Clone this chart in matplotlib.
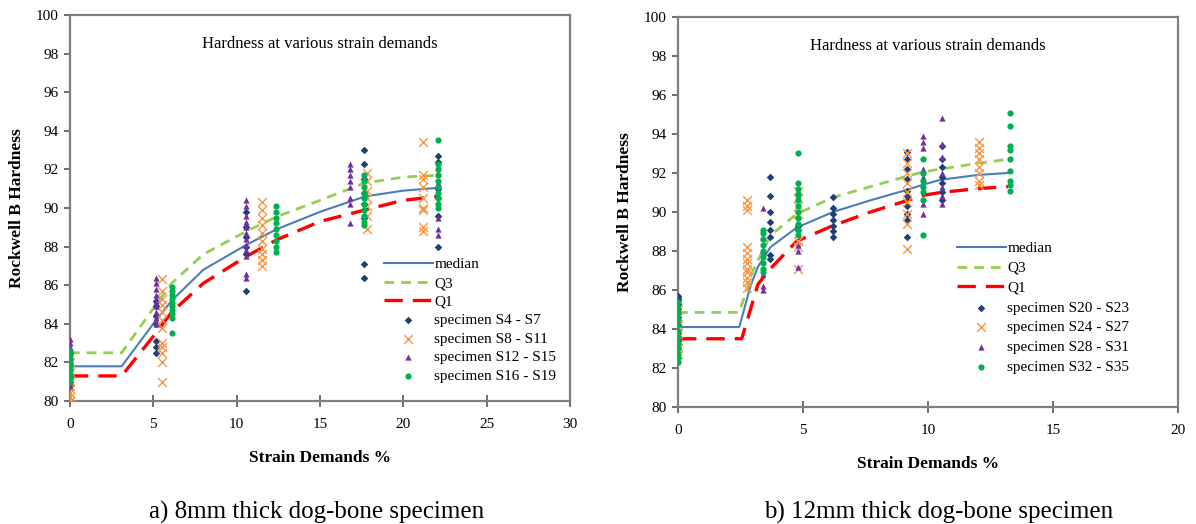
import numpy as np
import matplotlib
matplotlib.use("Agg")
import matplotlib.pyplot as plt

plt.rcParams['font.family'] = ['Liberation Serif', 'DejaVu Serif']

# ---- panel a) 8mm specimens ----
a_line_x = [0, 3.1, 5.0, 6.1, 8, 10.6, 12.4, 15, 17.7, 20, 22.1]
a_median = [81.8, 81.8, 84.0, 85.2, 86.8, 88.1, 88.9, 89.8, 90.6, 90.9, 91.05]
a_q3 = [82.5, 82.5, 84.8, 86.1, 87.6, 88.8, 89.55, 90.4, 91.3, 91.6, 91.7]
a_q1 = [81.3, 81.3, 83.35, 84.6, 86.1, 87.5, 88.35, 89.3, 89.9, 90.4, 90.6]

a_s4_x = [0, 5.15, 10.55, 17.65, 22.1]
a_s4_y = [[82.5, 82.2, 81.9, 81.6, 81.3, 81.0, 80.8],
          [85.2, 84.9, 84.4, 84.0, 83.1, 82.8, 82.5],
          [89.8, 89.0, 88.5, 88.0, 87.6, 85.7],
          [93.0, 92.3, 91.5, 90.8, 90.2, 89.5, 87.1, 86.4],
          [92.7, 92.4, 91.0, 90.5, 89.6, 88.0]]
a_s8_x = [0, 5.55, 11.55, 17.85, 21.2]
a_s8_y = [[82.0, 81.5, 81.0, 80.7, 80.4, 80.2, 80.0],
          [86.3, 85.7, 85.3, 85.0, 84.6, 84.2, 83.8, 83.0, 82.8, 82.5, 82.0, 81.0],
          [90.3, 89.9, 89.5, 89.1, 88.7, 88.3, 87.9, 87.6, 87.3, 87.0],
          [91.8, 91.4, 90.9, 90.5, 90.1, 89.6, 88.9],
          [93.4, 91.7, 91.5, 91.1, 90.5, 90.0, 89.9, 89.0, 88.8]]
a_s12_x = [0, 5.15, 10.55, 16.8, 22.1]
a_s12_y = [[83.2, 83.0, 82.8, 82.6, 81.0, 80.8],
           [86.4, 86.1, 85.8, 85.5, 85.2, 84.9, 84.6, 84.3, 84.0],
           [90.4, 90.1, 89.6, 89.3, 89.0, 88.7, 88.4, 88.1, 87.8, 87.5, 86.6, 86.4],
           [92.3, 92.0, 91.7, 91.4, 91.1, 90.5, 90.2, 89.2],
           [92.1, 91.8, 91.3, 89.5, 88.9, 88.6]]
a_s16_x = [0, 6.15, 12.35, 17.65, 22.1]
a_s16_y = [[82.6, 82.4, 82.2, 82.0, 81.8, 81.6, 81.4, 81.2, 81.0],
           [85.9, 85.7, 85.5, 85.3, 85.1, 84.9, 84.7, 84.5, 84.3, 83.5],
           [90.1, 89.8, 89.5, 89.2, 88.9, 88.6, 88.3, 88.0, 87.7],
           [91.7, 91.4, 91.1, 90.8, 90.5, 90.2, 89.9, 89.6, 89.3, 89.1],
           [93.5, 92.3, 92.0, 91.7, 91.4, 91.1, 90.8, 90.5, 90.2, 90.0]]
a_labels = ['specimen S4 - S7', 'specimen S8 - S11', 'specimen S12 - S15', 'specimen S16 - S19']

# ---- panel b) 12mm specimens ----
b_line_x = [0, 2.45, 2.9, 3.2, 3.7, 4.75, 6.2, 7.7, 9.2, 9.8, 10.5, 12, 13.2]
b_median = [84.1, 84.1, 86.2, 87.2, 88.2, 89.2, 90.0, 90.6, 91.15, 91.4, 91.65, 91.9, 92.0]
b_q3_x = [0, 2.45, 3.0, 3.7, 4.75, 6.2, 7.7, 9.2, 9.8, 10.5, 12, 13.2]
b_q3 = [84.85, 84.85, 87.0, 88.8, 89.9, 90.75, 91.3, 91.85, 92.05, 92.2, 92.5, 92.7]
b_q1_x = [0, 2.55, 3.2, 3.7, 4.75, 6.2, 7.7, 9.2, 9.8, 10.5, 12, 13.2]
b_q1 = [83.5, 83.5, 86.3, 87.1, 88.5, 89.3, 90.0, 90.6, 90.85, 91.0, 91.2, 91.3]

b_s20_x = [0, 3.7, 4.8, 6.2, 9.15, 10.55]
b_s20_y = [[85.7, 85.6, 85.5, 85.3, 85.0, 84.6, 84.2, 83.8, 83.4, 83.0],
           [91.8, 90.8, 90.0, 89.5, 89.1, 88.7, 87.8, 87.6],
           [89.3, 89.1],
           [90.75, 90.2, 89.9, 89.6, 89.3, 89.0, 88.7],
           [93.1, 92.7, 92.2, 91.7, 91.1, 90.8, 90.3, 89.9, 89.6, 88.7],
           [93.4, 92.7, 92.3, 91.8, 91.5, 91.0, 90.6]]
b_s24_x = [0, 2.75, 4.8, 9.15, 12.05]
b_s24_y = [[85.0, 84.6, 84.2, 83.8, 83.4, 83.0, 82.7],
           [90.6, 90.3, 90.1, 88.2, 87.9, 87.6, 87.4, 87.1, 86.9, 86.6, 86.4, 86.1],
           [91.1, 90.7, 90.3, 89.9, 88.5, 88.2, 87.1],
           [93.0, 92.5, 92.0, 91.5, 91.0, 90.5, 89.9, 89.4, 88.1],
           [93.6, 93.3, 93.0, 92.7, 92.3, 92.0, 91.6, 91.4]]
b_s28_x = [0, 3.4, 4.8, 9.8, 10.55]
b_s28_y = [[85.0, 84.4, 83.6, 83.2],
           [90.2, 88.7, 88.0, 86.8, 86.2, 86.0],
           [90.9, 88.3, 88.0, 87.2],
           [93.9, 93.6, 93.3, 92.2, 91.8, 90.4, 89.9],
           [94.8, 93.5, 92.8, 92.0, 91.3, 90.8, 90.4]]
b_s32_x = [0, 3.4, 4.8, 9.8, 13.3]
b_s32_y = [[85.4, 85.1, 84.8, 84.5, 84.2, 83.9, 83.6, 83.3, 83.0, 82.7, 82.5, 82.3],
           [89.1, 88.9, 88.6, 88.3, 88.0, 87.7, 87.4, 87.1, 86.9],
           [93.0, 91.5, 91.2, 90.9, 90.6, 90.3, 90.0, 89.7, 89.4, 89.1, 88.8],
           [92.7, 92.0, 91.6, 91.3, 91.0, 90.6, 88.8],
           [95.1, 94.4, 93.4, 93.2, 92.7, 92.1, 91.6, 91.4, 91.1]]
b_labels = ['specimen S20 - S23', 'specimen S24 - S27', 'specimen S28 - S31', 'specimen S32 - S35']

# Excel-like styling
c_median = '#4a7ebb'
c_q3 = '#92d050'
c_q1 = '#ff0000'
marker_styles = [
    dict(marker='D', color='#1f3f77', s=15, linewidths=0),
    dict(marker='x', color='#f79646', s=40, linewidths=1.0),
    dict(marker='^', color='#7030a0', s=20, linewidths=0),
    dict(marker='o', color='#00b050', s=20, linewidths=0),
]


def flatten(xs, ys):
    xx = np.concatenate([[x] * len(v) for x, v in zip(xs, ys)])
    yy = np.concatenate([v for v in ys])
    return xx, yy


def draw_panel(ax, med, q3, q1, groups, labels, xmax, legend_anchor, spacing):
    ax.plot(med[0], med[1], color=c_median, lw=1.5, label='median', zorder=3)
    ax.plot(q3[0], q3[1], color=c_q3, lw=2.0, dashes=(3.5, 2.5), label='Q3', zorder=3)
    ax.plot(q1[0], q1[1], color=c_q1, lw=2.4, dashes=(5.5, 3.0), label='Q1', zorder=3)
    for (gx, gy), lab, st in zip(groups, labels, marker_styles):
        xx, yy = flatten(gx, gy)
        ax.scatter(xx, yy, label=lab, zorder=4, **st)

    ax.set_xlim(0, xmax)
    ax.set_ylim(80, 100)
    ax.set_xticks(np.arange(0, xmax + 1, 5))
    ax.set_yticks(np.arange(80, 101, 2))
    for sp in ax.spines.values():
        sp.set_color('#7f7f7f')
        sp.set_linewidth(1.6)
    ax.tick_params(axis='x', direction='inout', length=8, width=1.2, color='#555555',
                   labelsize=11, pad=8)
    ax.tick_params(axis='y', direction='out', length=4, width=1.2, color='#555555',
                   labelsize=11, pad=4)
    ax.set_xlabel('Strain Demands %', fontsize=12.5, fontweight='bold', labelpad=14)
    ax.set_ylabel('Rockwell B Hardness', fontsize=12.5, fontweight='bold', labelpad=8)
    ax.text(0.5, 0.925, 'Hardness at various strain demands', transform=ax.transAxes,
            ha='center', va='center', fontsize=12)
    ax.legend(loc='lower right', bbox_to_anchor=legend_anchor, frameon=False,
              fontsize=11, handlelength=3.2, handletextpad=0.1, labelspacing=spacing,
              borderaxespad=0)


fig = plt.figure(figsize=(11.96, 5.24), dpi=100)
ax1 = fig.add_axes([0.0585, 0.2347, 0.418, 0.7366])
ax2 = fig.add_axes([0.5669, 0.2233, 0.418, 0.7443])

draw_panel(ax1, (a_line_x, a_median), (a_line_x, a_q3), (a_line_x, a_q1),
           [(a_s4_x, a_s4_y), (a_s8_x, a_s8_y), (a_s12_x, a_s12_y), (a_s16_x, a_s16_y)],
           a_labels, 30, (0.985, 0.031), 0.32)
draw_panel(ax2, (b_line_x, b_median), (b_q3_x, b_q3), (b_q1_x, b_q1),
           [(b_s20_x, b_s20_y), (b_s24_x, b_s24_y), (b_s28_x, b_s28_y), (b_s32_x, b_s32_y)],
           b_labels, 20, (0.915, 0.069), 0.40)

fig.text(0.265, 0.022, 'a) 8mm thick dog-bone specimen', ha='center', va='center', fontsize=18)
fig.text(0.785, 0.022, 'b) 12mm thick dog-bone specimen', ha='center', va='center', fontsize=18)

fig.savefig('out.png', dpi=100)
